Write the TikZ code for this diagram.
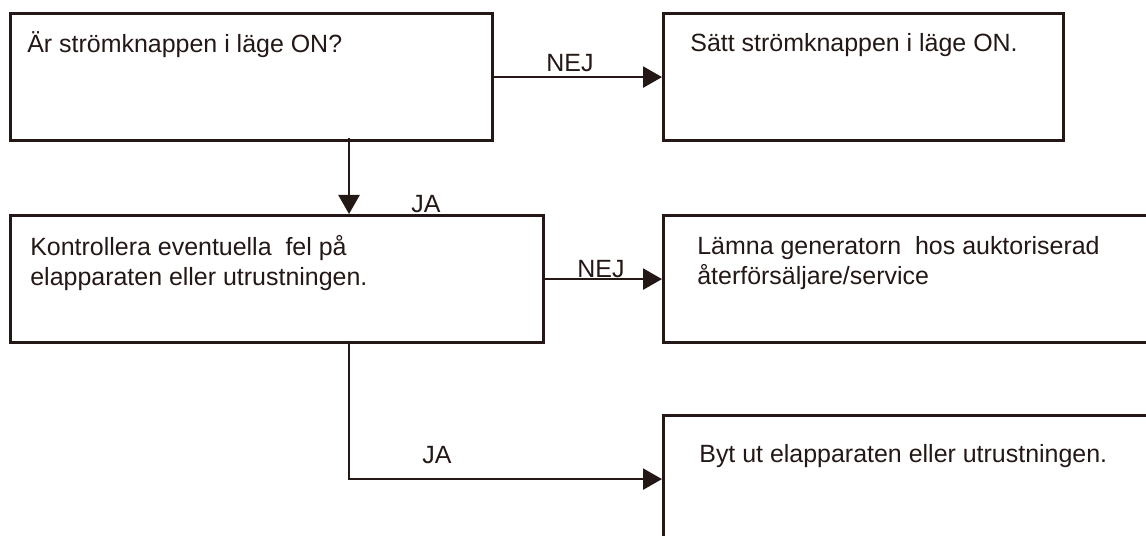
\documentclass[tikz,border=0pt]{standalone}
\usepackage{fontspec}
\setmainfont{Liberation Sans}
\usepackage{xcolor}
\usetikzlibrary{positioning,arrows.meta,calc}
\definecolor{ink}{HTML}{231815}

\begin{document}
\begin{tikzpicture}[every node/.style={font=\fontsize{14.2}{16.8}\selectfont,text=ink}]
    \tikzstyle{box}=[rectangle,draw=ink,line width=1.8pt,minimum height=2.54cm,inner sep=0pt,anchor=north west];
    \tikzstyle{txt}=[anchor=base west,align=left,inner sep=0pt];
    \tikzstyle{lbl}=[anchor=base,inner sep=0pt];
    \tikzstyle{arr}=[draw=ink,line width=1.4pt,-{Triangle[length=3.8mm,width=4.2mm]}];
    \clip (0,0) rectangle (22.92,-10.72);
    % --- top row ---
    \node[box,minimum width=9.64cm]  (ask)  at (0.18,-0.24) {};
    \node[box,minimum width=8.00cm]  (turn) at (13.24,-0.24) {};
    \node[txt] (askt)  at ([shift={(0.36,-0.82)}]ask.north west)  {Är strömknappen i läge ON?};
    \node[txt] (turnt) at ([shift={(0.56,-0.80)}]turn.north west) {Sätt strömknappen i läge ON.};
    % --- middle row (base = last line) ---
    \node[box,minimum width=10.66cm] (chk)  at (0.18,-4.28) {};
    \node[box,minimum width=9.96cm]  (svc)  at (13.24,-4.28) {};
    \node[txt] (chkt) at ([shift={(0.42,-1.43)}]chk.north west)
      {Kontrollera eventuella\ \ fel på\\elapparaten eller utrustningen.};
    \node[txt] (svct) at ([shift={(0.70,-1.41)}]svc.north west)
      {Lämna generatorn\ \ hos auktoriserad\\återförsäljare/service};
    % --- bottom row ---
    \node[box,minimum width=9.96cm]  (swap) at (13.24,-8.28) {};
    \node[txt] (swapt) at ([shift={(0.74,-0.96)}]swap.north west) {Byt ut elapparaten\ eller utrustningen.};
    % --- connectors ---
    \coordinate (d1) at (6.98,-2.76);
    \coordinate (d2) at (6.98,-6.82);
    \draw[arr] (ask.east) -- (ask.east -| turn.west);
    \draw[arr] (d1) -- (d1 |- chk.north);
    \draw[arr] (chk.east) -- (chk.east -| svc.west);
    \draw[arr] (d2) |- (swap.west);
    \node[lbl] (nej1) at (11.40,-1.44) {NEJ};
    \node[lbl] (ja1)  at (8.52,-4.26)  {JA};
    \node[lbl] (nej2) at (12.02,-5.56) {NEJ};
    \node[lbl] (ja2)  at (8.74,-9.28)  {JA};
\end{tikzpicture}
\end{document}
